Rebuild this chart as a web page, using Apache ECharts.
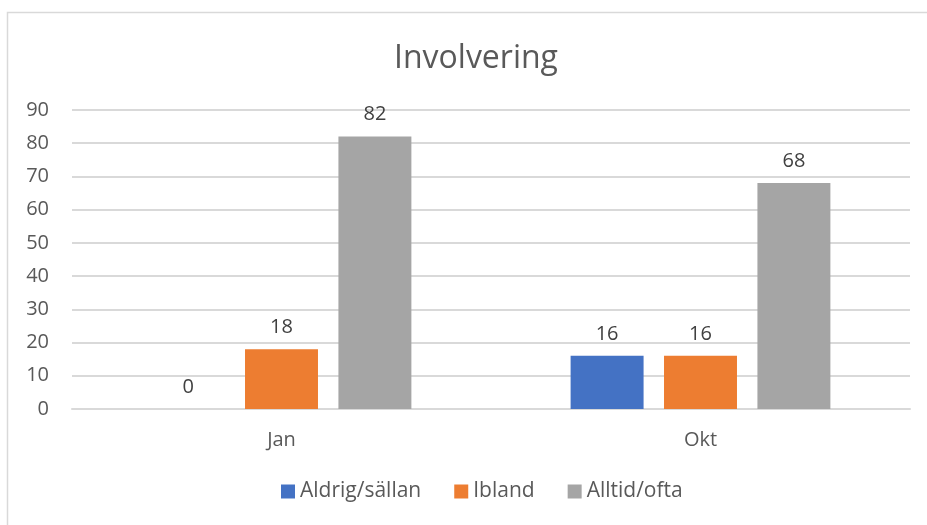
<!DOCTYPE html>
<html><head><meta charset="utf-8">
<script src="https://cdn.jsdelivr.net/npm/echarts@6/dist/echarts.min.js"></script>
<style>html,body{margin:0;padding:0;background:#fff}#c{width:927px;height:525px}</style>
</head><body><div id="c"></div>
<script>
const categories = ["Jan", "Okt"];
const seriesNames = ["Aldrig/sällan", "Ibland", "Alltid/ofta"];
const aldrig = [0, 16];
const ibland = [18, 16];
const alltid = [82, 68];
const yTicks = [0, 10, 20, 30, 40, 50, 60, 70, 80, 90];
const colors = ["#4472C4", "#ED7D31", "#A5A5A5"];
const values = [aldrig, ibland, alltid];
const FONT = "Open Sans";
const chart = echarts.init(document.getElementById('c'));
chart.setOption({
  animation: false,
  textStyle: { fontFamily: FONT },
  graphic: [{ type: 'rect', shape: { x: 7.5, y: 12.5, width: 940, height: 540 }, style: { fill: 'none', stroke: '#d9d9d9', lineWidth: 1.5 }, z: -1 }],
  title: { text: "Involvering", left: 389, top: 38, textStyle: { fontFamily: FONT, fontSize: 32, fontWeight: 'normal', color: '#595959' } },
  legend: { data: seriesNames, bottom: 18, left: 276, icon: 'rect', itemWidth: 14, itemHeight: 14, itemGap: 33, textStyle: { fontFamily: FONT, fontSize: 21, color: '#595959' } },
  grid: { left: 72, right: 17, top: 110, bottom: 116 },
  xAxis: { type: 'category', data: categories, axisLine: { lineStyle: { color: '#d9d9d9', width: 2 } }, axisTick: { show: false }, axisLabel: { fontFamily: FONT, fontSize: 20, color: '#595959', margin: 21 } },
  yAxis: { type: 'value', min: 0, max: yTicks[yTicks.length - 1], interval: yTicks[1] - yTicks[0], axisLine: { show: false }, axisTick: { show: false }, splitLine: { lineStyle: { color: '#d9d9d9', width: 2 } }, axisLabel: { fontFamily: FONT, fontSize: 20, color: '#595959', margin: 23 } },
  series: seriesNames.map((n, i) => ({
    name: n, type: 'bar', data: values[i], barGap: '28%', barCategoryGap: '38%',
    itemStyle: { color: colors[i] },
    label: { show: true, position: 'top', distance: 12, fontFamily: FONT, fontSize: 20, color: '#404040' }
  }))
});
</script></body></html>
